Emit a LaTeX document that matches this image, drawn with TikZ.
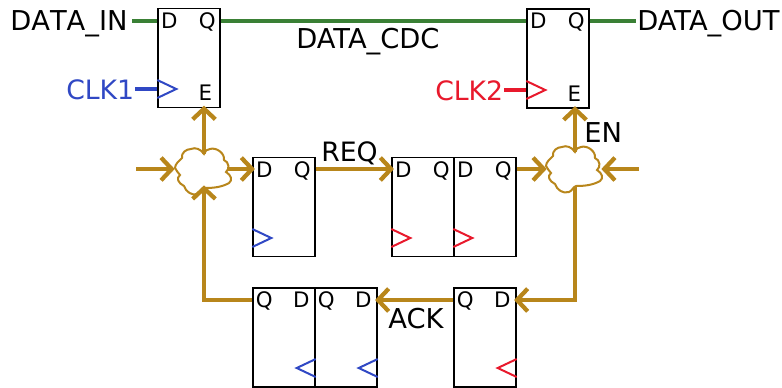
\documentclass[tikz,border=0pt]{standalone}
\usepackage{fontspec}
\setmainfont{DejaVu Sans}
\usetikzlibrary{arrows.meta}

\definecolor{wirebrown}{HTML}{B8861B}
\definecolor{wiregreen}{HTML}{3A8035}
\definecolor{clkblue}{HTML}{3048C4}
\definecolor{clkred}{HTML}{E8192C}

\tikzset{
  ffbox/.style={draw,shape=rectangle,line width=1.1pt,minimum width=46.5pt,minimum height=74.5pt,inner sep=0pt},
  pinlabel/.style={inner sep=0pt,anchor=base,font=\fontsize{16}{16}\selectfont},
  siglabel/.style={inner sep=0pt,anchor=base west,font=\fontsize{20.5}{20.5}\selectfont},
  ctrlwire/.style={wirebrown,line width=3.2pt,shorten >=-2pt,-{Straight Barb[length=8pt,width=17pt,line width=3.2pt]}},
  datawire/.style={wiregreen,line width=3.2pt},
  cloudspot/.style={shape=circle,inner sep=0pt,minimum size=34pt},
  muxcloud/.pic={
    \draw[wirebrown,line width=1.5pt,fill=white] (0,-18) .. controls (-3,-23) and (-9,-25) .. (-13,-23)
      .. controls (-18,-23) and (-23,-19) .. (-22,-14) .. controls (-25,-11) and (-29,-8) .. (-29,-4)
      .. controls (-28,-1) and (-25,1) .. (-24,3) .. controls (-28,6) and (-26,11) .. (-20,14)
      .. controls (-18,20) and (-12,24) .. (-6,22) .. controls (-3,21) and (-2,17) .. (1,16)
      .. controls (10,16) and (18,15) .. (25,11) .. controls (29,8) and (27,3) .. (22,0)
      .. controls (26,-3) and (25,-10) .. (20,-12) .. controls (21,-19) and (12,-25) .. (6,-23)
      .. controls (3,-23) and (1,-21) .. (0,-18) -- cycle;
  },
  clkright/.pic={\draw[line width=1.5pt,pic actions] (0,-9) -- (19,0) -- (0,9);},
  clkleft/.pic={\draw[line width=1.5pt,pic actions] (0,-9) -- (-19,0) -- (0,9);}
}

\begin{document}
\begin{tikzpicture}[x=0.75pt,y=-0.75pt]
\useasboundingbox (0,0) rectangle (782,387);
% flip flops
\path (189,58) node[ffbox] (ffa) {};
\path (558,58.5) node[ffbox] (ffb) {};
\path (284,207) node[ffbox] (reqa) {};
\path (423,207) node[ffbox] (reqb) {};
\path (485,207) node[ffbox] (reqc) {};
\path (284,337.5) node[ffbox] (acka) {};
\path (346,337.5) node[ffbox] (ackb) {};
\path (485,337.5) node[ffbox] (ackc) {};
% pins
\foreach \n in {ffa,ffb,reqa,reqb,reqc}{
  \path (\n.north west)+(12,20.5) node[pinlabel] (\n d) {D};
  \path (\n.north west)+(50,20.5) node[pinlabel] (\n q) {Q};
}
\foreach \n in {acka,ackb,ackc}{
  \path (\n.north west)+(12,20.5) node[pinlabel] (\n q) {Q};
  \path (\n.north west)+(49,20.5) node[pinlabel] (\n d) {D};
}
\path (ffa.north west)+(48,92.5) node[pinlabel] (ffae) {E};
\path (ffb.north west)+(48,93) node[pinlabel] (ffbe) {E};
% clock marks
\path (ffa.west |- 0,89) pic[clkblue] {clkright};
\path (ffb.west |- 0,90) pic[clkred] {clkright};
\path (reqa.west |- 0,238) pic[clkblue] {clkright};
\path (reqb.west |- 0,238) pic[clkred] {clkright};
\path (reqc.west |- 0,238) pic[clkred] {clkright};
\path (acka.east |- 0,368) pic[clkblue] {clkleft};
\path (ackb.east |- 0,368) pic[clkblue] {clkleft};
\path (ackc.east |- 0,368) pic[clkred] {clkleft};
% clouds
\path (204,172) pic {muxcloud} node[cloudspot] (muxa) {};
\path (575,170) pic {muxcloud} node[cloudspot] (muxb) {};
% signal names
\path (10,30) node[siglabel] (datain) {\addfontfeature{Kerning=Off}DATA\_IN};
\path (296,48) node[siglabel] (datacdc) {DATA\_CDC};
\path (637,30) node[siglabel] (dataout) {DATA\_OUT};
\path (66,99) node[siglabel,font=\fontsize{20}{20}\selectfont,text=clkblue] (clka) {CLK1};
\path (435,100) node[siglabel,font=\fontsize{20}{20}\selectfont,text=clkred] (clkb) {CLK2};
\path (321,161) node[siglabel,font=\fontsize{20}{20}\selectfont] (req) {REQ};
\path (388,328) node[siglabel] (ack) {ACK};
\path (584,142) node[siglabel] (en) {EN};
% free ends
\coordinate (inend) at (132,21);
\coordinate (outend) at (636,21);
\coordinate (clkaend) at (135,89);
\coordinate (clkbend) at (504,90);
\coordinate (leftend) at (136,169);
\coordinate (rightend) at (639,169);
% data
\draw[datawire] (inend) -- (inend -| ffa.west);
\draw[datawire] (ffa.east |- inend) -- (ffb.west |- inend);
\draw[datawire] (ffb.east |- outend) -- (outend);
\draw[clkblue,line width=3.2pt] (clkaend) -- (clkaend -| ffa.west);
\draw[clkred,line width=3.2pt] (clkbend) -- (clkbend -| ffb.west);
% handshake
\draw[ctrlwire] (leftend) -- (172,169);
\draw[ctrlwire] (228,169) -- (reqa.west |- 0,169);
\draw[ctrlwire] (reqa.east |- 0,169) -- (reqb.west |- 0,169);
\draw[ctrlwire] (reqc.east |- 0,169) -- (544,169);
\draw[ctrlwire] (rightend) -- (604,169);
\draw[ctrlwire] (muxa.north |- 0,154) -- (muxa.north |- ffa.south);
\draw[ctrlwire] (muxb.north |- 0,152) -- (muxb.north |- ffb.south);
\draw[ctrlwire] (muxb.south |- 0,187) |- (ackc.east |- 0,300);
\draw[ctrlwire] (ackc.west |- 0,300) -- (ackb.east |- 0,300);
\draw[ctrlwire] (acka.west |- 0,300) -| (muxa.south |- 0,188);
\end{tikzpicture}
\end{document}
